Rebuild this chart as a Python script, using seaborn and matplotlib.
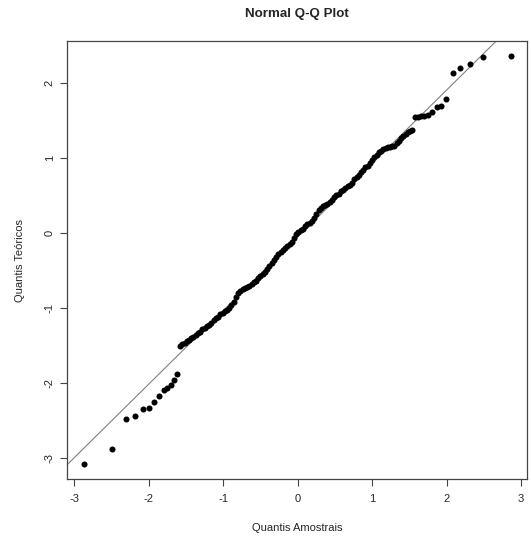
import matplotlib
matplotlib.use("Agg")
import matplotlib.pyplot as plt
import seaborn as sns

# pontos: cauda inferior, faixa central, cauda superior
x_cauda_inf = [-2.87, -2.50, -2.31, -2.18, -2.08, -2.00, -1.93, -1.86, -1.80,
               -1.76, -1.70, -1.66, -1.62]
y_cauda_inf = [-3.07, -2.87, -2.48, -2.44, -2.34, -2.33, -2.25, -2.17, -2.09,
               -2.06, -2.02, -1.95, -1.87]

x_faixa = [-1.58, -1.55, -1.52, -1.49, -1.46, -1.43, -1.40, -1.37, -1.34, -1.31,
           -1.28, -1.25, -1.22, -1.19, -1.16, -1.13, -1.10, -1.07, -1.04, -1.01,
           -0.98, -0.95, -0.92, -0.89, -0.86, -0.83, -0.80, -0.77, -0.74, -0.71,
           -0.68, -0.65, -0.62, -0.59, -0.56, -0.53, -0.50, -0.47, -0.44, -0.41,
           -0.38, -0.35, -0.32, -0.29, -0.26, -0.23, -0.20, -0.17, -0.14, -0.11,
           -0.08, -0.05, -0.02, 0.01, 0.04, 0.07, 0.10, 0.13, 0.16, 0.19,
           0.22, 0.25, 0.28, 0.31, 0.34, 0.37, 0.40, 0.43, 0.46, 0.49,
           0.52, 0.55, 0.58, 0.61, 0.64, 0.67, 0.70, 0.73, 0.76, 0.79,
           0.82, 0.85, 0.88, 0.91, 0.94, 0.97, 1.00, 1.03, 1.06, 1.09,
           1.12, 1.15, 1.18, 1.21, 1.24, 1.27, 1.30, 1.33, 1.36, 1.39,
           1.42, 1.45, 1.48, 1.51, 1.54]
y_faixa = [-1.50, -1.48, -1.46, -1.44, -1.42, -1.40, -1.38, -1.36, -1.33, -1.31,
           -1.28, -1.26, -1.24, -1.22, -1.19, -1.16, -1.13, -1.11, -1.08, -1.06,
           -1.04, -1.02, -0.99, -0.96, -0.91, -0.85, -0.80, -0.77, -0.74, -0.73,
           -0.72, -0.70, -0.68, -0.65, -0.63, -0.60, -0.57, -0.54, -0.51, -0.48,
           -0.44, -0.40, -0.36, -0.32, -0.28, -0.25, -0.22, -0.20, -0.17, -0.14,
           -0.11, -0.06, -0.01, 0.02, 0.04, 0.06, 0.10, 0.13, 0.14, 0.16,
           0.20, 0.26, 0.31, 0.34, 0.36, 0.38, 0.39, 0.42, 0.45, 0.48,
           0.51, 0.53, 0.56, 0.58, 0.61, 0.63, 0.65, 0.67, 0.72, 0.75,
           0.78, 0.82, 0.85, 0.88, 0.90, 0.94, 0.98, 1.02, 1.05, 1.08,
           1.10, 1.12, 1.14, 1.15, 1.155, 1.16, 1.17, 1.20, 1.23, 1.27,
           1.30, 1.33, 1.35, 1.37, 1.38]

x_cauda_sup = [1.58, 1.62, 1.66, 1.70, 1.75, 1.80, 1.87, 1.93, 1.99, 2.08,
               2.18, 2.31, 2.49, 2.87]
y_cauda_sup = [1.55, 1.555, 1.56, 1.565, 1.575, 1.62, 1.68, 1.70, 1.79, 2.14,
               2.20, 2.26, 2.35, 2.36]

# reta de referência (qqline)
INTERCEPTO = -0.05
INCLINACAO = 0.98

TICKS = [-3, -2, -1, 0, 1, 2, 3]
TICKS_Y = [-3, -2, -1, 0, 1, 2]

sns.set_style("white")
plt.rcParams["font.family"] = ["Liberation Sans", "DejaVu Sans"]
plt.rcParams["axes.unicode_minus"] = False

x_all = x_cauda_inf + x_faixa + x_cauda_sup
y_all = y_cauda_inf + y_faixa + y_cauda_sup

fig = plt.figure(figsize=(5.31, 5.43), dpi=100)
ax = fig.add_axes([67.3 / 531, 1 - 479 / 543, 459.4 / 531, 438 / 543])

ax.axline((0, INTERCEPTO), slope=INCLINACAO, color="#808080", lw=0.8, zorder=1)
sns.scatterplot(x=x_all, y=y_all, ax=ax, color="black", s=19, linewidth=0,
                zorder=2)

ax.set_xlim(-3.095, 3.076)
ax.set_ylim(-3.276, 2.564)

ax.set_xticks(TICKS)
ax.set_xticklabels([str(t) for t in TICKS])
ax.set_yticks(TICKS_Y)
ax.set_yticklabels([str(t) for t in TICKS_Y], rotation=90, va="center")
ax.tick_params(axis="both", length=5, width=0.8, color="#444444",
               labelsize=8, bottom=True, left=True)
ax.tick_params(axis="x", pad=6)
ax.tick_params(axis="y", pad=4)
for s in ax.spines.values():
    s.set_color("#444444")
    s.set_linewidth(0.9)

fig.text(297 / 531, 1 - 14 / 543, "Normal Q-Q Plot", ha="center", va="center",
         fontsize=9.6, fontweight="bold")
fig.text(297 / 531, 1 - 528 / 543, "Quantis Amostrais", ha="center",
         va="center", fontsize=8)
fig.text(20 / 531, 1 - 260 / 543, "Quantis Teóricos", ha="center",
         va="center", rotation=90, fontsize=8)

fig.savefig("out.png", dpi=100)
plt.close(fig)
